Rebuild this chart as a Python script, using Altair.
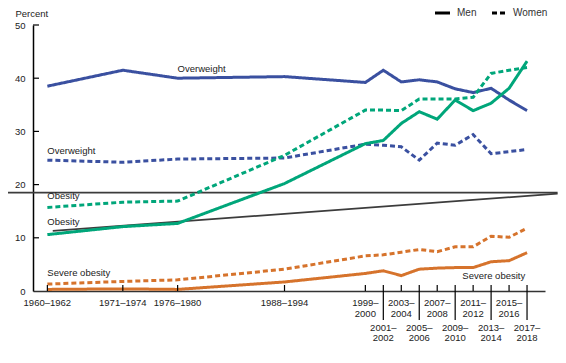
import altair as alt
import pandas as pd

FONT = "Liberation Sans"

periods = ["1960–1962", "1971–1974", "1976–1980", "1988–1994", "1999–\n2000",
           "2001–\n2002", "2003–\n2004", "2005–\n2006", "2007–\n2008", "2009–\n2010",
           "2011–\n2012", "2013–\n2014", "2015–\n2016", "2017–\n2018"]
period_pos = [1964.6, 1973.0, 1979.1, 1991.0, 2000, 2002, 2004, 2006, 2008, 2010,
              2012, 2014, 2016, 2018]
label_row = [1, 1, 1, 1, 1, 2, 1, 2, 1, 2, 1, 2, 1, 2]

men_overweight = [38.5, 41.5, 40.0, 40.3, 39.2, 41.5, 39.3, 39.7, 39.3, 38.0, 37.3, 38.1, 35.9, 33.9]
women_overweight = [24.6, 24.2, 24.8, 25.0, 27.6, 27.4, 27.1, 24.6, 27.8, 27.4, 29.4, 25.8, 26.2, 26.6]
men_obesity = [10.6, 12.1, 12.7, 20.2, 27.7, 28.3, 31.5, 33.7, 32.3, 35.9, 33.9, 35.3, 38.1, 43.2]
women_obesity = [15.7, 16.7, 16.9, 25.5, 34.0, 34.0, 33.9, 36.1, 36.1, 36.1, 36.4, 40.9, 41.5, 42.0]
men_severe = [0.3, 0.4, 0.3, 1.7, 3.3, 3.8, 2.9, 4.1, 4.3, 4.4, 4.4, 5.5, 5.7, 7.2]
women_severe = [1.3, 1.8, 2.1, 4.1, 6.6, 6.8, 7.3, 7.8, 7.4, 8.3, 8.3, 10.3, 10.1, 11.8]

measures = ["Overweight", "Obesity", "Severe obesity"]
colors = ["#3a50a0", "#00a67a", "#d6732c"]
sexes = ["Men", "Women"]

y_ticks = [0, 10, 20, 30, 40, 50]

ann_text = ["Overweight", "Overweight", "Obesity", "Obesity", "Severe obesity", "Severe obesity"]
ann_x = [1979.1, 1964.6, 1964.6, 1964.6, 1964.6, 2010.8]
ann_y = [41.8, 26.4, 17.9, 13.0, 3.4, 2.9]

# stray straight lines that appear in the reference picture
art_seg = ["h", "h", "d", "d"]
art_x = [1960.2, 2021.4, 1965.2, 2021.4]
art_y = [18.5, 18.5, 11.3, 18.3]

rows = []
for m, s, vals in [("Overweight", "Men", men_overweight), ("Overweight", "Women", women_overweight),
                   ("Obesity", "Men", men_obesity), ("Obesity", "Women", women_obesity),
                   ("Severe obesity", "Men", men_severe), ("Severe obesity", "Women", women_severe)]:
    for p, v in zip(period_pos, vals):
        rows.append({"measure": m, "sex": s, "pos": p, "value": v})
df = pd.DataFrame(rows)

ticks_df = pd.DataFrame({"label": periods, "pos": period_pos, "row": label_row})
ann_df = pd.DataFrame({"text": ann_text, "x": ann_x, "y": ann_y})
art_df = pd.DataFrame({"seg": art_seg, "x": art_x, "y": art_y})
yt_df = pd.DataFrame({"v": y_ticks[1:]})

W, H = 512, 266
xscale = alt.Scale(domain=[1963, 2020], nice=False, zero=False)
yscale = alt.Scale(domain=[0, 50], nice=False)
dash_scale = alt.Scale(domain=sexes, range=[[1, 0], [5, 3]])

lines = alt.Chart(df).mark_line(strokeWidth=3, strokeCap="butt", clip=False).encode(
    x=alt.X("pos:Q", scale=xscale,
            axis=alt.Axis(labels=False, ticks=False, grid=False, domainColor="#333",
                          domainWidth=1.5, title=None)),
    y=alt.Y("value:Q", scale=yscale,
            axis=alt.Axis(values=y_ticks, ticks=False, grid=False, labelPadding=8,
                          labelFont=FONT, labelFontSize=9.5, labelColor="#222",
                          domainColor="black", domainWidth=1.5,
                          title="Percent", titleAngle=0, titleX=-18, titleY=-12,
                          titleAlign="left", titleBaseline="middle", titleFont=FONT,
                          titleFontSize=9.5, titleFontWeight="normal", titleColor="#222")),
    color=alt.Color("measure:N", scale=alt.Scale(domain=measures, range=colors), legend=None),
    strokeDash=alt.StrokeDash("sex:N", scale=dash_scale, legend=None),
    order="pos:Q",
)

# manual legend
LY = -12
leg_df = pd.DataFrame({"sex": sexes})
leg_men_line = alt.Chart(leg_df).transform_filter("datum.sex == 'Men'").mark_rule(
    color="black", strokeWidth=3).encode(x=alt.value(402), x2=alt.value(417), y=alt.value(LY))
leg_women_line = alt.Chart(leg_df).transform_filter("datum.sex == 'Women'").mark_rule(
    color="black", strokeWidth=3, strokeDash=[5, 3]).encode(
    x=alt.value(459), x2=alt.value(472), y=alt.value(LY))
leg_men_text = alt.Chart(leg_df).transform_filter("datum.sex == 'Men'").mark_text(
    font=FONT, fontSize=10, color="#333", align="left", baseline="middle").encode(
    x=alt.value(424), y=alt.value(LY), text="sex:N")
leg_women_text = alt.Chart(leg_df).transform_filter("datum.sex == 'Women'").mark_text(
    font=FONT, fontSize=10, color="#333", align="left", baseline="middle").encode(
    x=alt.value(480), y=alt.value(LY), text="sex:N")

art = alt.Chart(art_df).mark_line(color="#3c3c3c", strokeWidth=1.8, clip=False).encode(
    x=alt.X("x:Q", scale=xscale), y=alt.Y("y:Q", scale=yscale), detail="seg:N")

ytick = alt.Chart(yt_df).mark_rule(color="black", strokeWidth=1.2).encode(
    y=alt.Y("v:Q", scale=yscale), x=alt.value(0), x2=alt.value(6))

xtick = alt.Chart(ticks_df).mark_rule(color="black", strokeWidth=1.2).encode(
    x=alt.X("pos:Q", scale=xscale), y=alt.value(H - 6), y2=alt.value(H))

xtick_long = alt.Chart(ticks_df).transform_filter("datum.row == 2").mark_rule(
    color="black", strokeWidth=1.2).encode(
    x=alt.X("pos:Q", scale=xscale), y=alt.value(H), y2=alt.value(H + 29))

lab1 = alt.Chart(ticks_df).transform_filter("datum.row == 1").mark_text(
    font=FONT, fontSize=9.5, color="#222", baseline="top", align="center",
    lineBreak="\n", lineHeight=10.5).encode(
    x=alt.X("pos:Q", scale=xscale), y=alt.value(H + 7), text="label:N")

lab2 = alt.Chart(ticks_df).transform_filter("datum.row == 2").mark_text(
    font=FONT, fontSize=9.5, color="#222", baseline="top", align="center",
    lineBreak="\n", lineHeight=10.5).encode(
    x=alt.X("pos:Q", scale=xscale), y=alt.value(H + 31.5), text="label:N")

ann = alt.Chart(ann_df).mark_text(font=FONT, fontSize=9.5, color="#222", align="left",
                                  baseline="middle").encode(
    x=alt.X("x:Q", scale=xscale), y=alt.Y("y:Q", scale=yscale), text="text:N")

chart = alt.layer(art, lines, ytick, xtick, xtick_long, lab1, lab2, ann,
                  leg_men_line, leg_women_line, leg_men_text, leg_women_text).properties(
    width=W, height=H,
    autosize=alt.AutoSizeParams(type="none"),
    padding={"left": 25, "top": 17, "right": 13, "bottom": 56},
).configure_view(stroke=None)

chart.save("out.html", embed_options={"renderer": "svg", "actions": False})
